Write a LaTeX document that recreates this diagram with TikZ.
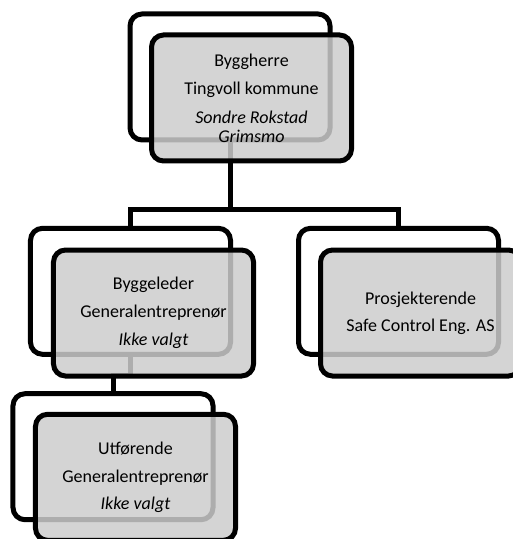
\documentclass[tikz,border=0pt]{standalone}
\usepackage{fontspec}
\setmainfont{Carlito}
\definecolor{boxgray}{RGB}{204,204,204}
\newcommand\boxfont{\fontsize{18bp}{19bp}\selectfont}
\tikzset{
  bx/.style={draw=black, line width=5bp, rounded corners=12bp,
    minimum width=200bp, minimum height=126bp, inner sep=0pt, outer sep=0pt},
  backbox/.style={bx},
  frontbox/.style={bx, fill=boxgray, fill opacity=0.85, text opacity=1,
    align=center, font=\boxfont},
  conn/.style={draw=black, line width=5bp}
}
\begin{document}
\begin{tikzpicture}[x=1bp,y=-1bp]
\useasboundingbox (0,0) rectangle (513,539);
% back boxes
\node[backbox] (tb) at (230,77) {};
\node[backbox] (lb) at (130.5,291.3) {};
\node[backbox] (rb) at (398.5,291.3) {};
\node[backbox] (ub) at (113,456.7) {};
% connectors
\coordinate (bar) at (230,209.5);
\draw[conn] (tb.south) -- (bar) -| (lb.north);
\draw[conn] (bar) -| (rb.north);
\coordinate (jog) at (113,375.5);
\draw[conn] (lb.south) |- (jog) -- (ub.north);
% front boxes
\node[frontbox] (tf) at (251.5,98) {Byggherre\\[9.5bp]Tingvoll kommune\\[9.5bp]\textit{Sondre Rokstad}\\\textit{Grimsmo}};
\node[frontbox] (lf) at (153.5,313) {Byggeleder\\[9bp]Generalentreprenør\\[9bp]\textit{Ikke valgt}};
\node[frontbox] (rf) at (420.5,313) {Prosjekterende\\[8bp]Safe Control Eng. AS};
\node[frontbox] (uf) at (135.5,477.3) {Utførende\\[8.5bp]Generalentreprenør\\[8.5bp]\textit{Ikke valgt}};
\end{tikzpicture}
\end{document}
